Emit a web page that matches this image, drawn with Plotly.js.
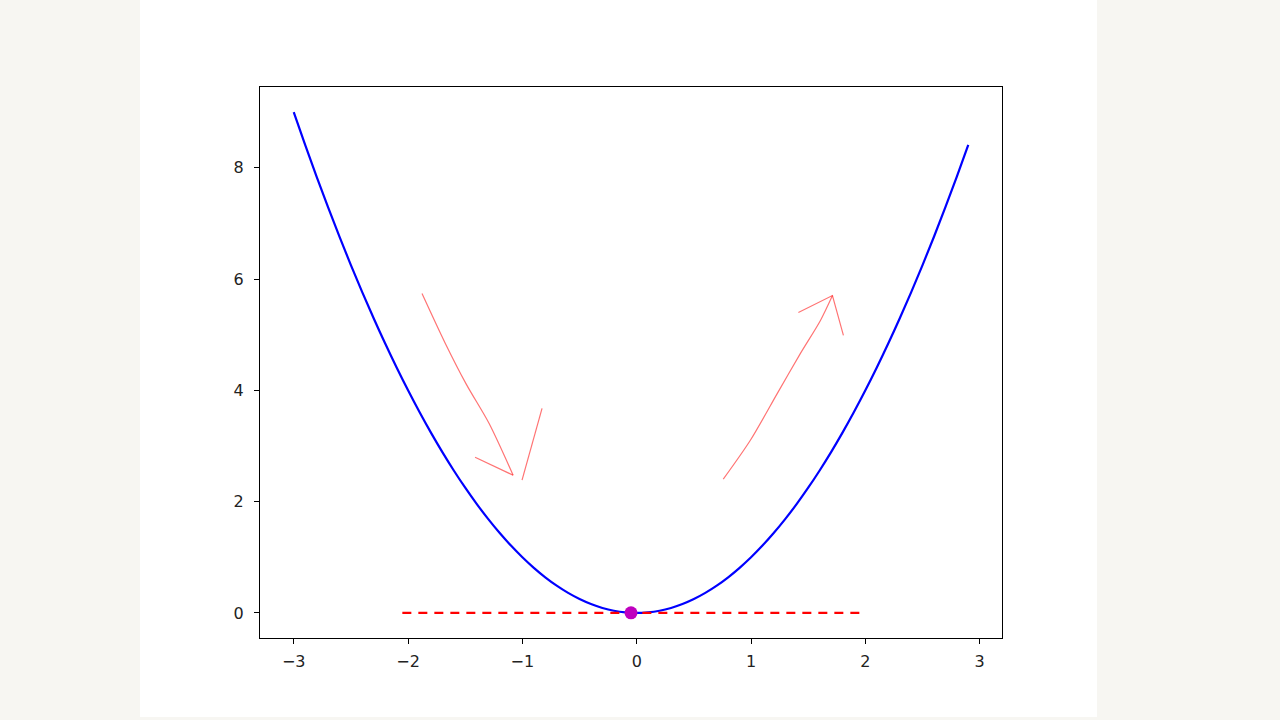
<!DOCTYPE html>
<html>
<head>
<meta charset="utf-8">
<script src="https://cdn.plot.ly/plotly-3.0.1.min.js"></script>
<style>
  html, body { margin: 0; padding: 0; background: #f7f6f2; width: 1280px; height: 720px; overflow: hidden; }
  #chart { position: absolute; left: 140px; top: 0px; width: 957px; height: 717px; background: #ffffff; }
</style>
</head>
<body>
<div id="chart"></div>
<script>
const curveX = [-3.0,-2.9,-2.8,-2.7,-2.6,-2.5,-2.4,-2.3,-2.2,-2.1,-2.0,-1.9,-1.8,-1.7,-1.6,-1.5,-1.4,-1.3,-1.2,-1.1,-1.0,-0.9,-0.8,-0.7,-0.6,-0.5,-0.4,-0.3,-0.2,-0.1,0.0,0.1,0.2,0.3,0.4,0.5,0.6,0.7,0.8,0.9,1.0,1.1,1.2,1.3,1.4,1.5,1.6,1.7,1.8,1.9,2.0,2.1,2.2,2.3,2.4,2.5,2.6,2.7,2.8,2.9];
const curveY = [9.00,8.41,7.84,7.29,6.76,6.25,5.76,5.29,4.84,4.41,4.00,3.61,3.24,2.89,2.56,2.25,1.96,1.69,1.44,1.21,1.00,0.81,0.64,0.49,0.36,0.25,0.16,0.09,0.04,0.01,0.00,0.01,0.04,0.09,0.16,0.25,0.36,0.49,0.64,0.81,1.00,1.21,1.44,1.69,1.96,2.25,2.56,2.89,3.24,3.61,4.00,4.41,4.84,5.29,5.76,6.25,6.76,7.29,7.84,8.41];

// Minimum point and tangent line
const pointX = [-0.05];
const pointY = [0.0025];
const tangentX = [-2.05, 1.95];
const tangentY = [0.0025, 0.0025];

// Hand-drawn arrows
const leftArrowX = [-1.878,-1.674,-1.490,-1.292,-1.081];
const leftArrowY = [5.740,4.843,4.107,3.408,2.475];
const leftHead1X = [-1.414,-1.081];
const leftHead1Y = [2.798,2.475];
const leftHead2X = [-1.003,-0.828];
const leftHead2Y = [2.386,3.677];

const rightArrowX = [0.757,0.994,1.230,1.432,1.607,1.712];
const rightArrowY = [2.404,3.103,3.946,4.664,5.256,5.704];
const rightHeadX = [1.414,1.712,1.808];
const rightHeadY = [5.399,5.704,4.987];

const xTicks = [-3,-2,-1,0,1,2,3];
const yTicks = [0,2,4,6,8];

const arrowStyle = {color: 'rgba(255,0,0,0.55)', width: 1.2};

const traces = [
  {x: curveX, y: curveY, mode: 'lines', line: {color: '#0000ff', width: 2.2, shape: 'spline', smoothing: 1}, hoverinfo: 'skip'},
  {x: tangentX, y: tangentY, mode: 'lines', line: {color: '#ff0000', width: 2.2, dash: '9px,7px'}, hoverinfo: 'skip'},
  {x: pointX, y: pointY, mode: 'markers', marker: {color: '#bf00bf', size: 13}, hoverinfo: 'skip'},
  {x: leftArrowX, y: leftArrowY, mode: 'lines', line: Object.assign({shape: 'spline', smoothing: 0.8}, arrowStyle), hoverinfo: 'skip'},
  {x: leftHead1X, y: leftHead1Y, mode: 'lines', line: arrowStyle, hoverinfo: 'skip'},
  {x: leftHead2X, y: leftHead2Y, mode: 'lines', line: arrowStyle, hoverinfo: 'skip'},
  {x: rightArrowX, y: rightArrowY, mode: 'lines', line: Object.assign({shape: 'spline', smoothing: 0.8}, arrowStyle), hoverinfo: 'skip'},
  {x: rightHeadX, y: rightHeadY, mode: 'lines', line: arrowStyle, hoverinfo: 'skip'}
];

const layout = {
  width: 957, height: 717,
  paper_bgcolor: '#ffffff', plot_bgcolor: '#ffffff',
  showlegend: false,
  margin: {l: 120, r: 95, t: 87, b: 79, pad: 0},
  font: {family: 'DejaVu Sans, sans-serif', size: 16, color: '#222222'},
  xaxis: {
    range: [-3.295, 3.195], tickvals: xTicks, ticktext: xTicks.map(v => v < 0 ? '\u2212' + Math.abs(v) : String(v)),
    showgrid: false, zeroline: false, showline: true, linecolor: '#000000', linewidth: 1, mirror: true,
    ticks: 'outside', ticklen: 5, tickwidth: 1, tickcolor: '#000000', tickfont: {size: 16}, ticklabelstandoff: 4
  },
  yaxis: {
    range: [-0.45, 9.45], tickvals: yTicks, ticktext: yTicks.map(String),
    showgrid: false, zeroline: false, showline: true, linecolor: '#000000', linewidth: 1, mirror: true,
    ticks: 'outside', ticklen: 5, tickwidth: 1, tickcolor: '#000000', tickfont: {size: 16}, ticklabelstandoff: 7
  }
};

Plotly.newPlot('chart', traces, layout, {staticPlot: true, displayModeBar: false});
</script>
</body>
</html>
